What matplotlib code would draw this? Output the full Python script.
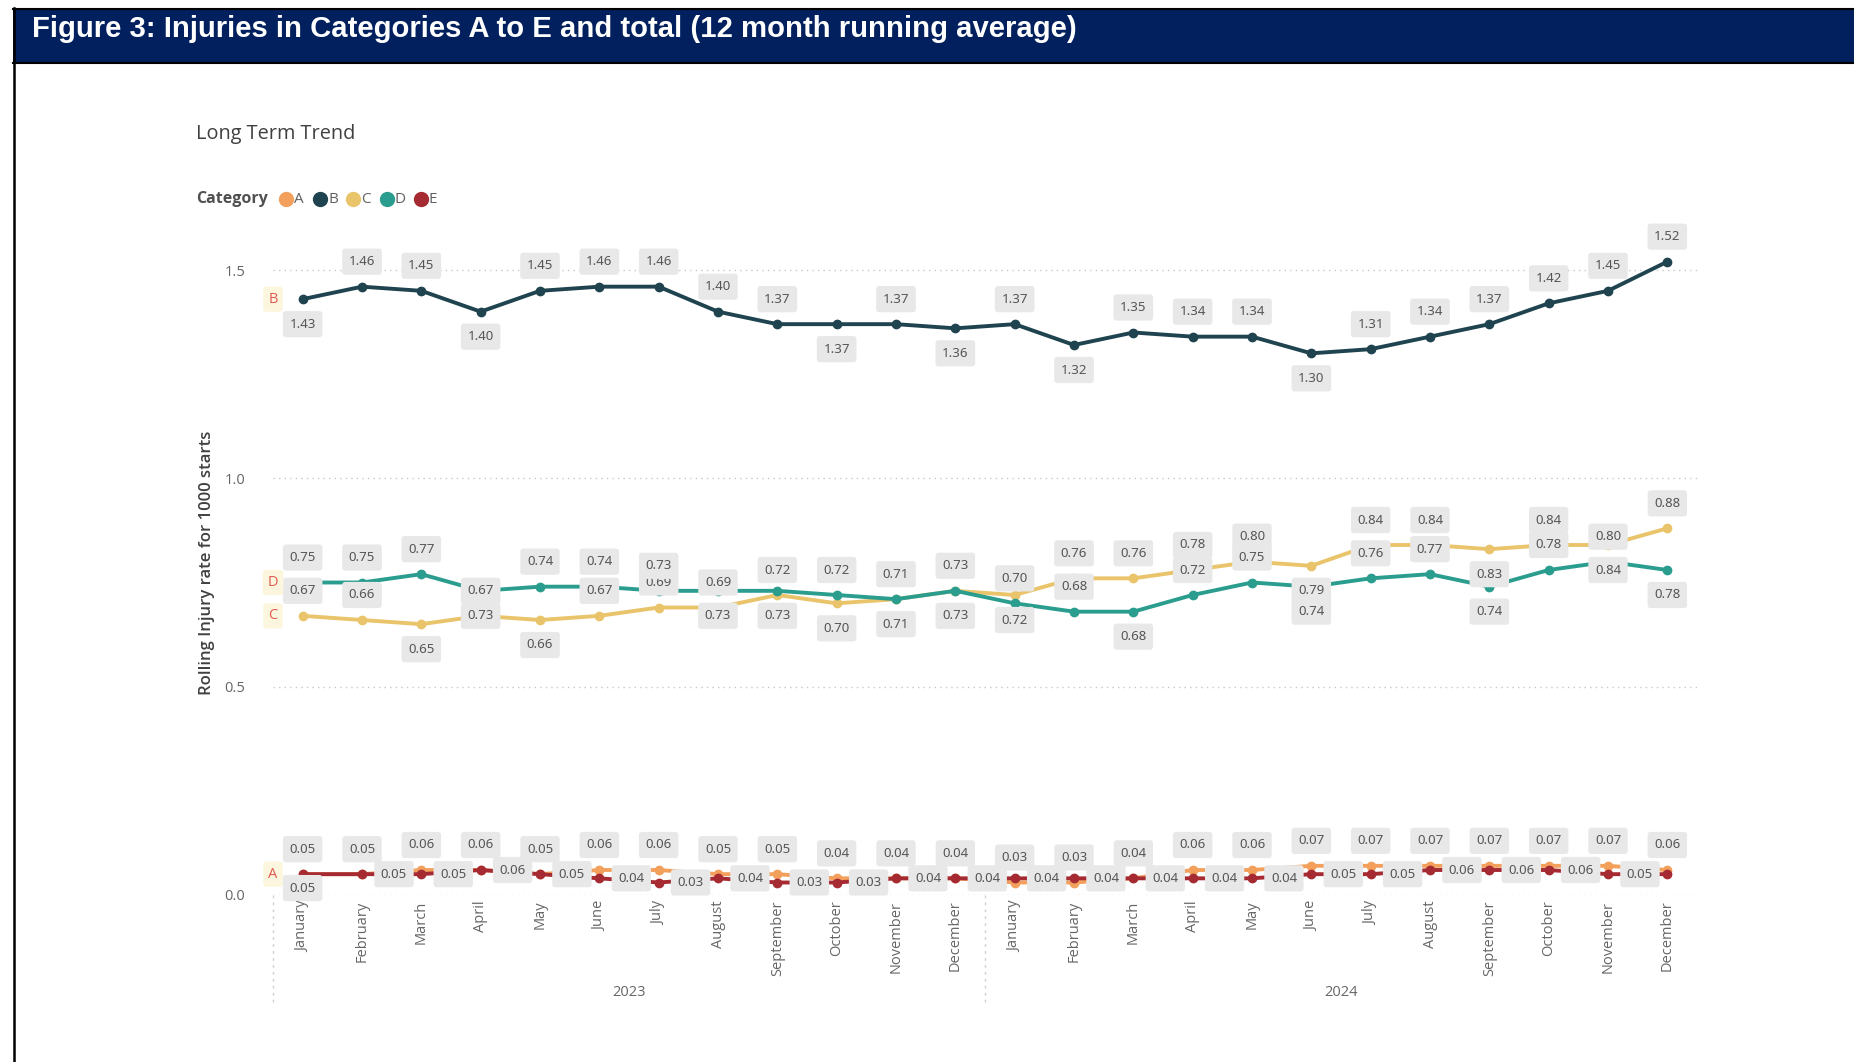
import matplotlib.pyplot as plt
from matplotlib.lines import Line2D
from matplotlib.patches import Rectangle
import matplotlib.transforms as mtransforms

# data (12 month running average)
month_names = ['January', 'February', 'March', 'April', 'May', 'June', 'July',
               'August', 'September', 'October', 'November', 'December']
years = ['2023', '2024']
months = month_names * len(years)

cat_a = [0.05, 0.05, 0.06, 0.06, 0.05, 0.06, 0.06, 0.05, 0.05, 0.04, 0.04, 0.04,
         0.03, 0.03, 0.04, 0.06, 0.06, 0.07, 0.07, 0.07, 0.07, 0.07, 0.07, 0.06]
cat_b = [1.43, 1.46, 1.45, 1.40, 1.45, 1.46, 1.46, 1.40, 1.37, 1.37, 1.37, 1.36,
         1.37, 1.32, 1.35, 1.34, 1.34, 1.30, 1.31, 1.34, 1.37, 1.42, 1.45, 1.52]
cat_c = [0.67, 0.66, 0.65, 0.67, 0.66, 0.67, 0.69, 0.69, 0.72, 0.70, 0.71, 0.73,
         0.72, 0.76, 0.76, 0.78, 0.80, 0.79, 0.84, 0.84, 0.83, 0.84, 0.84, 0.88]
cat_d = [0.75, 0.75, 0.77, 0.73, 0.74, 0.74, 0.73, 0.73, 0.73, 0.72, 0.71, 0.73,
         0.70, 0.68, 0.68, 0.72, 0.75, 0.74, 0.76, 0.77, 0.74, 0.78, 0.80, 0.78]
cat_e = [0.05, 0.05, 0.05, 0.06, 0.05, 0.04, 0.03, 0.04, 0.03, 0.03, 0.04, 0.04,
         0.04, 0.04, 0.04, 0.04, 0.04, 0.05, 0.05, 0.06, 0.06, 0.06, 0.05, 0.05]

series_names = ['A', 'B', 'C', 'D', 'E']
series_values = [cat_a, cat_b, cat_c, cat_d, cat_e]
colors = ['#F2A05C', '#1F4450', '#E9C46A', '#2A9D8F', '#A52A31']

# where the data labels sit: 'u' above, 'd' below, 'b' just below, 'r' right, 'n' hidden
pos_a = ['u'] * 24
pos_b = ['d', 'u', 'u', 'd', 'u', 'u', 'u', 'u', 'u', 'd', 'u', 'd',
         'u', 'd', 'u', 'u', 'u', 'd', 'u', 'u', 'u', 'u', 'u', 'u']
pos_c = ['u', 'u', 'd', 'u', 'd', 'u', 'u', 'u', 'u', 'd', 'u', 'd',
         'd', 'u', 'u', 'u', 'u', 'd', 'u', 'u', 'd', 'u', 'd', 'u']
pos_d = ['u', 'u', 'u', 'd', 'u', 'u', 'u', 'd', 'd', 'u', 'd', 'u',
         'u', 'u', 'd', 'u', 'u', 'd', 'u', 'u', 'd', 'u', 'u', 'd']
pos_e = ['b'] + ['r'] * 22 + ['n']
label_pos = [pos_a, pos_b, pos_c, pos_d, pos_e]
offsets = {'u': (0, 18), 'd': (0, -18), 'b': (0, -10), 'r': (23, 0)}

W, H = 1854, 1062
fig = plt.figure(figsize=(W / 100, H / 100), dpi=100)
fig.patch.set_facecolor('white')

# title bar and frame
fig.add_artist(Rectangle((13 / W, 1 - 62 / H), 1, 53 / H, transform=fig.transFigure,
                         facecolor='#03205E', edgecolor='none'))
fig.add_artist(Line2D([13 / W, 1], [1 - 8.5 / H, 1 - 8.5 / H], transform=fig.transFigure, color='black', lw=1.5))
fig.add_artist(Line2D([13 / W, 1], [1 - 62.5 / H, 1 - 62.5 / H], transform=fig.transFigure, color='black', lw=1.5))
fig.add_artist(Line2D([13.5 / W, 13.5 / W], [0, 1 - 8 / H], transform=fig.transFigure, color='black', lw=1.8))
fig.text(32 / W, 1 - 29 / H, 'Figure 3: Injuries in Categories A to E and total (12 month running average)',
         color='white', fontsize=21.1, fontweight='bold', family='Liberation Sans', va='center', ha='left')

fig.text(196 / W, 1 - 134 / H, 'Long Term Trend', fontsize=14.3, color='#404040', family='Open Sans',
         va='center', ha='left')

# legend
fig.text(196 / W, 1 - 199 / H, 'Category', fontsize=11.5, fontweight='bold', color='#505050',
         family='Open Sans', va='center', ha='left')
leg_x = [286, 320, 353, 387, 421]
for name, col, lx in zip(series_names, colors, leg_x):
    fig.add_artist(Line2D([lx / W], [1 - 199 / H], transform=fig.transFigure, marker='o',
                          markersize=10, color=col, linestyle='none'))
    fig.text((lx + 8) / W, 1 - 199 / H, name, fontsize=11, color='#606060', family='Open Sans',
             va='center', ha='left')

ax = fig.add_axes([273 / W, 1 - 895 / H, (1697 - 273) / W, (895 - 220) / H])
x = list(range(len(months)))

for name, vals, col, pos in zip(series_names, series_values, colors, label_pos):
    ax.plot(x, vals, color=col, lw=2.8, marker='o', markersize=6, zorder=3, solid_capstyle='round')
    for xi, v, p in zip(x, vals, pos):
        if p == 'n':
            continue
        ax.annotate(f'{v:.2f}', (xi, v), xytext=offsets[p], textcoords='offset points',
                    ha='center', va='center', fontsize=9.5, color='#555555', family='Noto Sans',
                    bbox=dict(boxstyle='round,pad=0.5,rounding_size=0.25', fc='#E8E8E8', ec='none'),
                    zorder=5, annotation_clip=False)

# series name badges at the left edge
for name, vals in zip(series_names[:4], series_values[:4]):
    ax.annotate(name, (-0.5, vals[0]), ha='center', va='center', fontsize=10.5, color='#E05A52',
                family='Open Sans', bbox=dict(boxstyle='round,pad=0.35,rounding_size=0.2', fc='#FBF6DD', ec='none'),
                zorder=6, annotation_clip=False)

ax.set_xlim(-0.5, 23.5)
ax.set_ylim(0, 1.62)
ax.set_yticks([0, 0.5, 1.0, 1.5])
ax.set_yticklabels(['0.0', '0.5', '1.0', '1.5'])
ax.set_xticks(x)
ax.set_xticklabels(months, rotation=90, va='top', ha='center')
ax.tick_params(axis='both', length=0, colors='#666666')
ax.tick_params(axis='y', pad=20, labelsize=10.5)
ax.tick_params(axis='x', pad=4, labelsize=10.5)
for lab in ax.get_xticklabels() + ax.get_yticklabels():
    lab.set_family('Open Sans')
for s in ax.spines.values():
    s.set_visible(False)
ax.grid(axis='y', linestyle=(0, (1, 3)), color='#C8C8C8', lw=1)
ax.set_axisbelow(True)

# year labels and separators below the month labels
trans = mtransforms.blended_transform_factory(ax.transData, ax.transAxes)
for i, yr in enumerate(years):
    ax.text(i * 12 + 5.5, -0.144, yr, transform=trans, ha='center', va='center',
            fontsize=10.5, color='#666666', family='Open Sans')
for sep in [-0.5, 11.5]:
    ax.plot([sep, sep], [0, -0.165], transform=trans, color='#D0D0D0', lw=1,
            linestyle=(0, (2, 3)), clip_on=False)

fig.text(207 / W, 1 - 563 / H, 'Rolling Injury rate for 1000 starts', rotation=90, fontsize=12,
         fontweight='semibold', color='#404040', family='Open Sans', va='center', ha='center')

fig.savefig('out.png', dpi=100)
